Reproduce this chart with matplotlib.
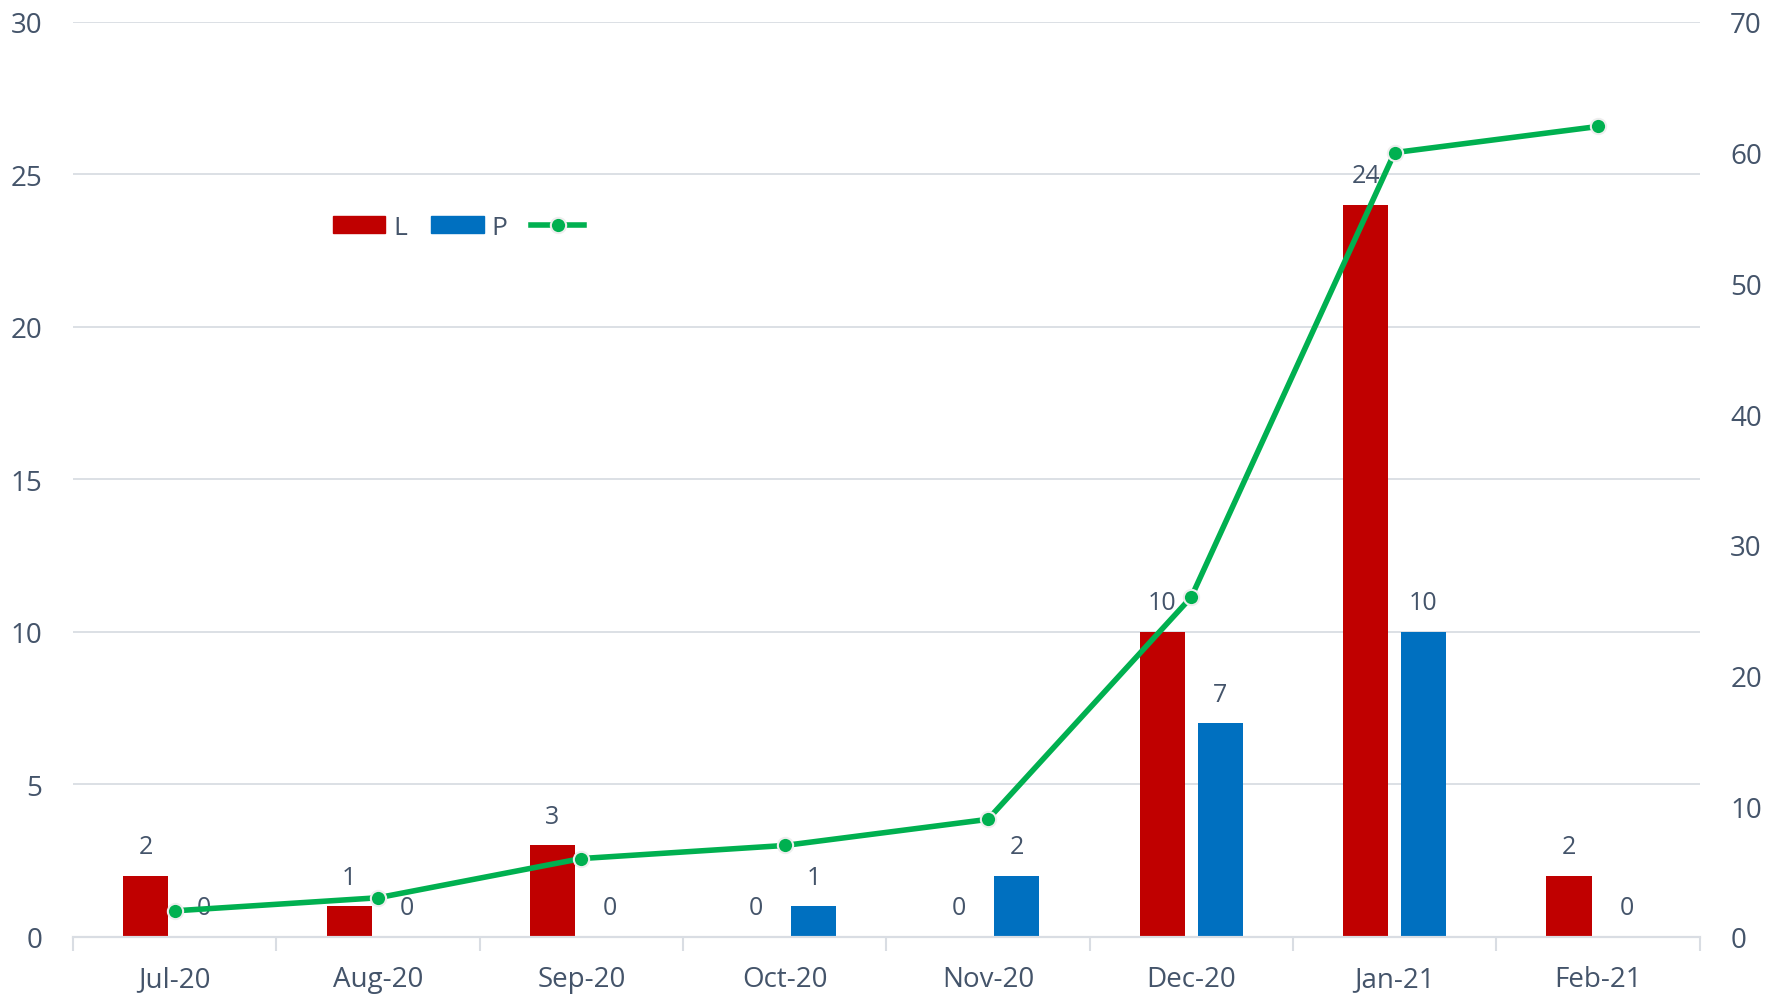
import numpy as np
import matplotlib.pyplot as plt
from matplotlib.lines import Line2D
from matplotlib.patches import Patch

months = ["Jul-20", "Aug-20", "Sep-20", "Oct-20", "Nov-20", "Dec-20", "Jan-21", "Feb-21"]
l_counts = [2, 1, 3, 0, 0, 10, 24, 2]
p_counts = [0, 0, 0, 1, 2, 7, 10, 0]
cumulative = [2, 3, 6, 7, 9, 26, 60, 62]

RED = "#C00000"
BLUE = "#0070C0"
GREEN = "#00B050"
TEXT = "#44546A"
GRID = "#D9DDE3"

plt.rcParams["font.family"] = ["Open Sans", "DejaVu Sans"]

fig = plt.figure(figsize=(17.68, 9.95), dpi=100)
ax = fig.add_axes([0.0413, 0.0573, 0.92, 0.9197])
ax2 = ax.twinx()

x = np.arange(len(months))
w = 0.222
off = 0.142
ax.bar(x - off, l_counts, w, color=RED, zorder=2)
ax.bar(x + off, p_counts, w, color=BLUE, zorder=2)

for xi, v in zip(x, l_counts):
    ax.annotate(str(v), (xi - off, v), xytext=(0, 21), textcoords="offset points",
                ha="center", va="center", fontsize=18, color=TEXT, zorder=3)
for xi, v in zip(x, p_counts):
    ax.annotate(str(v), (xi + off, v), xytext=(0, 21), textcoords="offset points",
                ha="center", va="center", fontsize=18, color=TEXT, zorder=3)

ax2.plot(x, cumulative, color=GREEN, lw=4, marker="o", markersize=11,
         markerfacecolor=GREEN, markeredgecolor="#EEEEEE", markeredgewidth=1.5,
         zorder=4)

ax.set_xlim(-0.5, len(months) - 0.5)
ax.set_ylim(0, 30)
ax2.set_ylim(0, 70)
ax.set_yticks(range(0, 31, 5))
ax2.set_yticks(range(0, 71, 10))
ax.set_xticks(x)
ax.set_xticklabels(months)
ax.set_xticks(np.arange(-0.5, len(months), 1), minor=True)

ax.grid(axis="y", color=GRID, lw=1.3, zorder=0)
ax.set_axisbelow(True)
for a in (ax, ax2):
    for s in ("top", "left", "right"):
        a.spines[s].set_visible(False)
    a.spines["bottom"].set_color(GRID)
    a.spines["bottom"].set_linewidth(1.5)
    a.tick_params(axis="y", length=0, labelsize=20, labelcolor=TEXT)

ax.tick_params(axis="y", pad=22)
ax2.tick_params(axis="y", pad=22)
ax.tick_params(axis="x", which="major", length=0, labelsize=20, labelcolor=TEXT, pad=20)
ax.tick_params(axis="x", which="minor", length=10, color=GRID, width=1.5)

handles = [
    Patch(color=RED),
    Patch(color=BLUE),
    Line2D([], [], color=GREEN, lw=4, marker="o", markersize=11,
           markerfacecolor=GREEN, markeredgecolor="#EEEEEE", markeredgewidth=1.5),
]
leg = ax.legend(handles, ["L", "P", ""], loc="upper left", bbox_to_anchor=(0.145, 0.815),
                ncol=3, frameon=False, fontsize=19, handlelength=2.0, handleheight=0.6,
                columnspacing=0.9, handletextpad=0.3, labelcolor=TEXT)

fig.savefig("out.png", dpi=100)
